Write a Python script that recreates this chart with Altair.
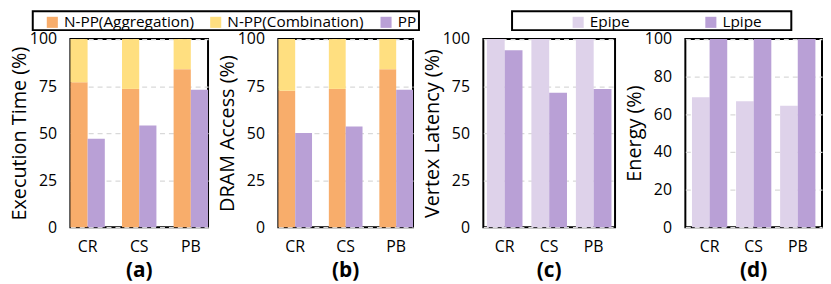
import altair as alt
import pandas as pd

cats = ["CR", "CS", "PB"]

# Panel (a) Execution Time
a_agg = [77, 73.5, 84]
a_comb = [23, 26.5, 16]
a_pp = [47, 54, 73]
# Panel (b) DRAM Access
b_agg = [72.5, 73.5, 84]
b_comb = [27.5, 26.5, 16]
b_pp = [50, 53.5, 73]
# Panel (c) Vertex Latency
c_epipe = [100, 100, 100]
c_lpipe = [94, 71.5, 73.5]
# Panel (d) Energy
d_epipe = [69, 67, 64.5]
d_lpipe = [100, 100, 100]

comps = ["N-PP(Aggregation)", "N-PP(Combination)", "PP"]
comp_colors = ["#F8AD6B", "#FFDF80", "#B9A0D6"]
pipes = ["Epipe", "Lpipe"]
pipe_colors = ["#DED2EA", "#B9A0D6"]

FONT = "Open Sans"
H = 190


def y_axis(title, values):
    return alt.Axis(
        title=title, values=values, grid=True, ticks=False, domain=False,
        labelFontSize=16, labelPadding=14, titleFontSize=20, titleFontWeight="normal",
        titlePadding=0, gridColor="#D9D9D9", gridDash=[5, 4], gridWidth=1.3,
        labelColor="black", titleColor="black",
    )


x_axis = alt.Axis(title=None, labelAngle=0, ticks=False, domain=False,
                  labelFontSize=16, labelPadding=12, labelColor="black", grid=False)


def sub_title(s):
    return alt.Title(s, orient="bottom", fontSize=21, fontWeight="bold", offset=5, color="black")


def legend_box(x1, x2):
    return alt.Chart(pd.DataFrame({"k": [0]})).mark_rect(
        fillOpacity=0, stroke="black", strokeWidth=2
    ).encode(x=alt.value(x1), x2=alt.value(x2), y=alt.value(-28), y2=alt.value(-9))


def make_legend(lx, cpad):
    return alt.Legend(title=None, orient="none", legendX=lx, legendY=-25,
                      direction="horizontal", symbolType="square", symbolSize=125,
                      labelFontSize=15.5, columnPadding=cpad, padding=0, labelOffset=4,
                      symbolStrokeWidth=0)


def stacked_panel(agg, comb, pp, ytitle, sub, w, show_legend):
    rows = []
    for i, c in enumerate(cats):
        rows.append(dict(cat=c, grp="N-PP", comp=comps[0], val=agg[i], ord=0))
        rows.append(dict(cat=c, grp="N-PP", comp=comps[1], val=comb[i], ord=1))
        rows.append(dict(cat=c, grp="PP", comp=comps[2], val=pp[i], ord=0))
    df = pd.DataFrame(rows)
    legend = make_legend(-26, 14) if show_legend else None
    bars = alt.Chart(df).mark_bar().encode(
        x=alt.X("cat:N", sort=cats, scale=alt.Scale(paddingInner=0.333, paddingOuter=0), axis=x_axis),
        xOffset=alt.XOffset("grp:N", sort=["N-PP", "PP"], scale=alt.Scale(paddingInner=0, paddingOuter=0)),
        y=alt.Y("val:Q", stack="zero", scale=alt.Scale(domain=[0, 100]),
                axis=y_axis(ytitle, [0, 25, 50, 75, 100])),
        color=alt.Color("comp:N", scale=alt.Scale(domain=comps, range=comp_colors), legend=legend),
        order=alt.Order("ord:Q"),
    )
    layers = [bars, legend_box(-38, 352)] if show_legend else [bars]
    return alt.layer(*layers, title=sub_title(sub)).properties(width=w, height=H)


def pipe_panel(ep, lp, ytitle, sub, w, show_legend, yvals, po):
    rows = []
    for i, c in enumerate(cats):
        rows.append(dict(cat=c, pipe="Epipe", val=ep[i]))
        rows.append(dict(cat=c, pipe="Lpipe", val=lp[i]))
    df = pd.DataFrame(rows)
    legend = make_legend(88, 74) if show_legend else None
    bars = alt.Chart(df).mark_bar().encode(
        x=alt.X("cat:N", sort=cats, scale=alt.Scale(paddingInner=0.2, paddingOuter=po), axis=x_axis),
        xOffset=alt.XOffset("pipe:N", sort=pipes, scale=alt.Scale(paddingInner=0, paddingOuter=0)),
        y=alt.Y("val:Q", scale=alt.Scale(domain=[0, 100]), axis=y_axis(ytitle, yvals)),
        color=alt.Color("pipe:N", scale=alt.Scale(domain=pipes, range=pipe_colors), legend=legend),
    )
    layers = [bars, legend_box(29, 311)] if show_legend else [bars]
    return alt.layer(*layers, title=sub_title(sub)).properties(width=w, height=H)


pa = stacked_panel(a_agg, a_comb, a_pp, "Execution Time (%)", "(a)", 139, True)
pb = stacked_panel(b_agg, b_comb, b_pp, "DRAM Access (%)", "(b)", 136, False)
pc = pipe_panel(c_epipe, c_lpipe, "Vertex Latency (%)", "(c)", 133, True, [0, 25, 50, 75, 100], 0.08)
pd_ = pipe_panel(d_epipe, d_lpipe, "Energy (%)", "(d)", 138, False, [0, 20, 40, 60, 80, 100], 0.15)

chart = alt.hconcat(pa, pb, pc, pd_, spacing=71, bounds="flush").resolve_scale(
    color="independent", xOffset="independent", x="independent", y="independent"
).properties(
    padding=0, background="white"
).configure(font=FONT).configure_view(
    stroke="black", strokeWidth=2
).configure_legend(
    labelColor="black", labelFont=FONT
)

chart.save("out.html", embed_options={"renderer": "svg", "actions": False})
